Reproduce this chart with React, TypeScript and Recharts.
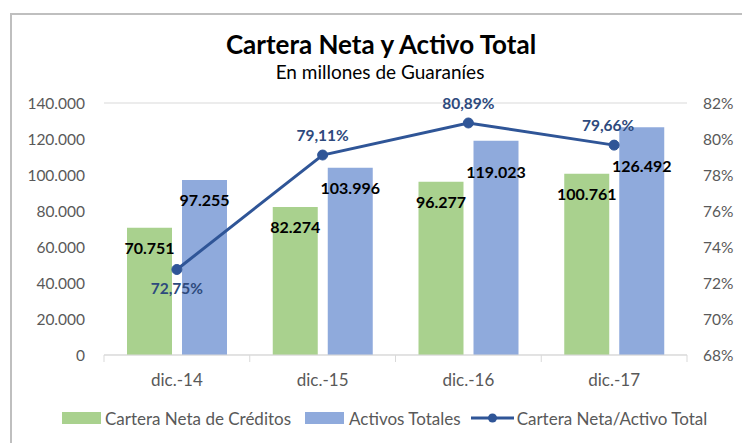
import React from 'react';
import { ComposedChart, Bar, Line, XAxis, YAxis, CartesianGrid, Legend, LabelList } from 'recharts';

const categories = ['dic.-14', 'dic.-15', 'dic.-16', 'dic.-17'];
const carteraNeta = [70751, 82274, 96277, 100761];
const activosTotales = [97255, 103996, 119023, 126492];
const ratio = [72.75, 79.11, 80.89, 79.66];
const leftTicks = [0, 20000, 40000, 60000, 80000, 100000, 120000, 140000];
const rightTicks = [68, 70, 72, 74, 76, 78, 80, 82];

const data = categories.map((name, i) => ({
    name,
    cartera: carteraNeta[i],
    activos: activosTotales[i],
    ratio: ratio[i],
}));

const FONT = 'Lato, "Open Sans", sans-serif';
const GREEN = '#A9D18E';
const BLUE = '#8FAADC';
const LINE = '#2F5597';
const AXIS_TEXT = '#595959';
const BAND = 145.75;

const fmtMiles = (v: number) => String(Math.round(v)).replace(/\B(?=(\d{3})+(?!\d))/g, '.');
const fmtPct = (v: number) => v.toFixed(2).replace('.', ',') + '%';

// label nudges (px below bar top), Excel labels were dragged a bit on some bars
const activosDy = [20, 20, 31, 38];

const barLabel = (dys: number[] | null) => (props: any) => {
    const { x, y, width, value, index } = props;
    const dy = dys ? dys[index] : 20;
    return (
        <text x={x + width / 2} y={y + dy} textAnchor="middle" dominantBaseline="central"
            fontFamily={FONT} fontSize={16} fontWeight={700} fill="#000">
            {fmtMiles(value)}
        </text>
    );
};

const ratioLabel = (props: any) => {
    const { x, y, value, index } = props;
    const below = index === 0;
    const dx = index === 3 ? -6 : 0;
    return (
        <text x={x + dx} y={below ? y + 18 : y - 20} textAnchor="middle" dominantBaseline="central"
            fontFamily={FONT} fontSize={15.5} fontWeight={700} fill="#2E4A7D">
            {fmtPct(value)}
        </text>
    );
};

const CategoryTick = (props: any) => {
    const { x, y, payload, index } = props;
    const half = BAND / 2;
    return (
        <g>
            <line x1={x - half} x2={x - half} y1={y - 8} y2={y - 1} stroke="#D9D9D9" />
            {index === categories.length - 1 && (
                <line x1={x + half} x2={x + half} y1={y - 8} y2={y - 1} stroke="#D9D9D9" />
            )}
            <text x={x} y={y + 16} textAnchor="middle" dominantBaseline="central"
                fontFamily={FONT} fontSize={17} fill={AXIS_TEXT}>
                {payload.value}
            </text>
        </g>
    );
};

const LegendContent = () => (
    <div style={{ display: 'flex', alignItems: 'center', fontFamily: FONT, fontSize: 17, color: AXIS_TEXT, whiteSpace: 'nowrap', height: 20 }}>
        <span style={{ display: 'inline-block', width: 39, height: 12, background: GREEN, marginRight: 4 }} />
        <span style={{ marginRight: 14 }}>Cartera Neta de Créditos</span>
        <span style={{ display: 'inline-block', width: 39, height: 12, background: BLUE, marginRight: 5 }} />
        <span style={{ marginRight: 10 }}>Activos Totales</span>
        <svg width={43} height={12} style={{ marginRight: 3 }}>
            <line x1={0} x2={43} y1={6} y2={6} stroke={LINE} strokeWidth={3} />
            <circle cx={21.5} cy={6} r={4.5} fill={LINE} />
        </svg>
        <span>Cartera Neta/Activo Total</span>
    </div>
);

export default function App() {
    return (
        <div style={{ position: 'absolute', left: 0, top: 0, width: 742, height: 443, background: '#fff', overflow: 'hidden' }}>
            <div style={{ position: 'absolute', left: 10, top: 13, width: 760, height: 460, borderTop: '2px solid #BFBFBF', borderLeft: '2px solid #BFBFBF' }} />
            <div style={{ position: 'absolute', left: 0, width: 762, top: 28, textAlign: 'center', fontFamily: FONT, fontWeight: 700, fontSize: 26, color: '#000' }}>
                Cartera Neta y Activo Total
            </div>
            <div style={{ position: 'absolute', left: 0, width: 760, top: 60, textAlign: 'center', fontFamily: FONT, fontSize: 19, color: '#000' }}>
                En millones de Guaraníes
            </div>
            <ComposedChart
                width={742}
                height={443}
                data={data}
                margin={{ top: 103, right: 0, bottom: 38, left: 0 }}
                barGap={10}
                barSize={45}
                style={{ position: 'absolute', left: 0, top: 0 }}
            >
                <CartesianGrid vertical={false} stroke="#D9D9D9" />
                <XAxis dataKey="name" yAxisId="left" height={30} stroke="#D9D9D9" tickLine={false} tick={<CategoryTick />} interval={0} />
                <YAxis
                    yAxisId="left"
                    width={104}
                    domain={[0, 140000]}
                    ticks={leftTicks}
                    tickFormatter={fmtMiles}
                    axisLine={false}
                    tickLine={false}
                    tickSize={0}
                    tickMargin={19}
                    tick={{ fontFamily: FONT, fontSize: 15.5, fill: AXIS_TEXT }}
                />
                <YAxis
                    yAxisId="right"
                    orientation="right"
                    width={55}
                    domain={[68, 82]}
                    ticks={rightTicks}
                    tickFormatter={(v: number) => `${v}%`}
                    axisLine={false}
                    tickLine={false}
                    tickSize={0}
                    tickMargin={16}
                    tick={{ fontFamily: FONT, fontSize: 15.5, fill: AXIS_TEXT, textAnchor: 'start' }}
                />
                <Legend verticalAlign="bottom" content={<LegendContent />} wrapperStyle={{ left: 62, top: 408, width: 680 }} />
                <Bar yAxisId="left" dataKey="cartera" name="Cartera Neta de Créditos" fill={GREEN} isAnimationActive={false}>
                    <LabelList dataKey="cartera" content={barLabel(null)} />
                </Bar>
                <Bar yAxisId="left" dataKey="activos" name="Activos Totales" fill={BLUE} isAnimationActive={false}>
                    <LabelList dataKey="activos" content={barLabel(activosDy)} />
                </Bar>
                <Line
                    yAxisId="right"
                    dataKey="ratio"
                    name="Cartera Neta/Activo Total"
                    stroke={LINE}
                    strokeWidth={3}
                    dot={{ r: 5, fill: LINE, stroke: LINE, strokeWidth: 1 }}
                    isAnimationActive={false}
                >
                    <LabelList dataKey="ratio" content={ratioLabel} />
                </Line>
            </ComposedChart>
        </div>
    );
}
